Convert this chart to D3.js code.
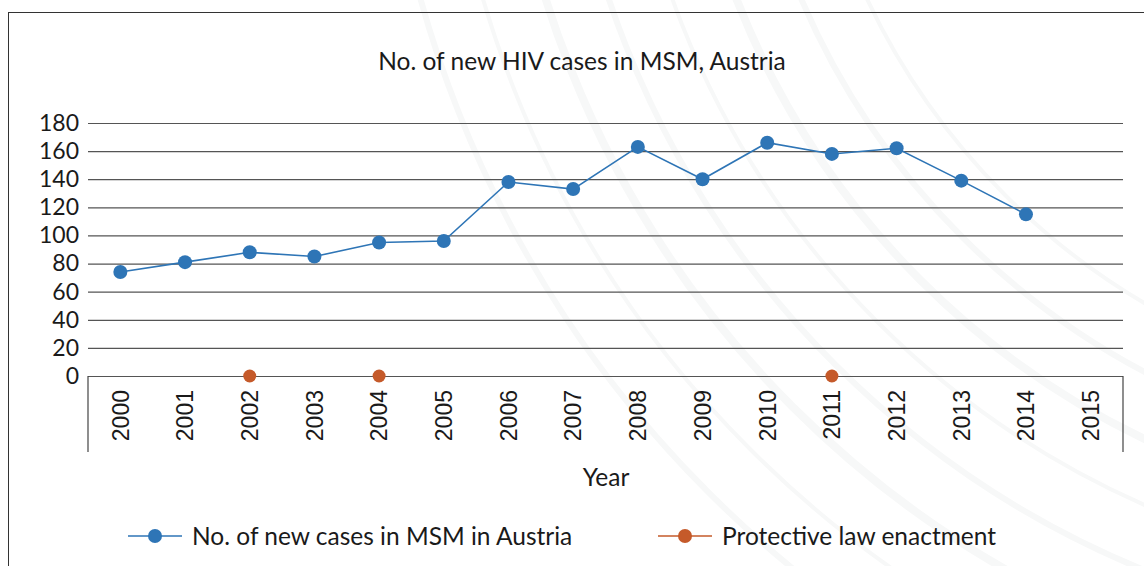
<!DOCTYPE html>
<html>
<head>
<meta charset="utf-8">
<script src="https://cdn.jsdelivr.net/npm/d3@7"></script>
<style>
  html, body { margin: 0; padding: 0; background: #fff; }
  svg { display: block; }
</style>
</head>
<body>
<svg id="chart" width="1144" height="566"></svg>
<script>
const years = ["2000","2001","2002","2003","2004","2005","2006","2007","2008","2009","2010","2011","2012","2013","2014","2015"];
const caseYears = ["2000","2001","2002","2003","2004","2005","2006","2007","2008","2009","2010","2011","2012","2013","2014"];
const caseValues = [74, 81, 88, 85, 95, 96, 138, 133, 163, 140, 166, 158, 162, 139, 115];
const lawYears = ["2002","2004","2011"];
const lawValues = [0, 0, 0];
const yTicks = [0, 20, 40, 60, 80, 100, 120, 140, 160, 180];
const title = "No. of new HIV cases in MSM, Austria";
const xTitle = "Year";
const seriesNames = ["No. of new cases in MSM in Austria", "Protective law enactment"];
const colors = ["#2e75b6", "#c55a2a"];

const svg = d3.select("#chart");
const W = 1144, H = 566;
const plot = {left: 88, right: 1123, top: 123, bottom: 376};
const sansFont = "Lato, 'Open Sans', sans-serif";

// faint decorative background swooshes
const bg = svg.append("g");
const arcs = [
  [1500, -300, 700], [1500, -300, 760], [1500, -300, 820], [1500, -300, 880],
  [1500, -300, 940], [1500, -300, 1000], [1500, -300, 1060], [1500, -300, 1120]
];
arcs.forEach(([cx, cy, r], i) => {
  bg.append("circle").attr("cx", cx).attr("cy", cy).attr("r", r)
    .attr("fill", "none").attr("stroke", "#f7f8f8").attr("stroke-width", 4 + (i % 3) * 2);
});

// outer frame
svg.append("rect").attr("x", 8.5).attr("y", 12.5).attr("width", W + 20).attr("height", H + 20)
  .attr("fill", "none").attr("stroke", "#333").attr("stroke-width", 1);

const x = d3.scaleBand().domain(years).range([plot.left, plot.right]).padding(0);
const y = d3.scaleLinear().domain([0, 180]).range([plot.bottom, plot.top]);

// title
svg.append("text").attr("x", 582).attr("y", 70).attr("text-anchor", "middle")
  .style("font-family", sansFont).style("font-size", "24.5px").attr("fill", "#1a1a1a").text(title);

// gridlines + y axis labels
const yAxis = d3.axisLeft(y).tickValues(yTicks).tickSize(-(plot.right - plot.left)).tickPadding(9);
const gy = svg.append("g").attr("transform", `translate(${plot.left},0)`).call(yAxis);
gy.select(".domain").remove();
gy.selectAll(".tick line").attr("stroke", "#555").attr("stroke-width", 1.2);
gy.selectAll(".tick text").style("font-family", sansFont).style("font-size", "23px").attr("fill", "#1a1a1a");

// category axis box
const boxBottom = 452;
svg.append("line").attr("x1", plot.left).attr("x2", plot.left).attr("y1", plot.bottom).attr("y2", boxBottom)
  .attr("stroke", "#444").attr("stroke-width", 1.2);
svg.append("line").attr("x1", plot.right).attr("x2", plot.right).attr("y1", plot.bottom).attr("y2", boxBottom)
  .attr("stroke", "#444").attr("stroke-width", 1.2);

// x axis labels (rotated)
const xAxis = d3.axisBottom(x).tickSize(0).tickPadding(0);
const gx = svg.append("g").attr("transform", `translate(0,${plot.bottom})`).call(xAxis);
gx.select(".domain").remove();
gx.selectAll(".tick text")
  .attr("transform", "rotate(-90)")
  .attr("x", -14).attr("y", 0).attr("dy", "0.36em")
  .attr("text-anchor", "end")
  .style("font-family", "'Liberation Sans', Arial, sans-serif")
  .style("font-size", "23px").attr("fill", "#1a1a1a");

// x title
svg.append("text").attr("x", 606).attr("y", 486).attr("text-anchor", "middle")
  .style("font-family", sansFont).style("font-size", "24.5px").attr("fill", "#1a1a1a").text(xTitle);

// case series
const caseData = caseYears.map((yr, i) => ({yr, v: caseValues[i]}));
const line = d3.line().x(d => x(d.yr) + x.bandwidth() / 2).y(d => y(d.v));
svg.append("path").datum(caseData).attr("d", line).attr("fill", "none")
  .attr("stroke", colors[0]).attr("stroke-width", 1.6);
svg.append("g").selectAll("circle").data(caseData).join("circle")
  .attr("cx", d => x(d.yr) + x.bandwidth() / 2).attr("cy", d => y(d.v)).attr("r", 7)
  .attr("fill", colors[0]);

// law series
const lawData = lawYears.map((yr, i) => ({yr, v: lawValues[i]}));
svg.append("g").selectAll("circle").data(lawData).join("circle")
  .attr("cx", d => x(d.yr) + x.bandwidth() / 2).attr("cy", d => y(d.v)).attr("r", 6.5)
  .attr("fill", colors[1]);

// legend
const legendItems = [
  {name: seriesNames[0], color: colors[0], x0: 128},
  {name: seriesNames[1], color: colors[1], x0: 658}
];
const ly = 536;
legendItems.forEach(it => {
  const g = svg.append("g");
  g.append("line").attr("x1", it.x0).attr("x2", it.x0 + 54).attr("y1", ly).attr("y2", ly)
    .attr("stroke", it.color).attr("stroke-width", 1.6);
  g.append("circle").attr("cx", it.x0 + 27).attr("cy", ly).attr("r", 7).attr("fill", it.color);
  g.append("text").attr("x", it.x0 + 64).attr("y", ly).attr("dy", "0.36em")
    .style("font-family", sansFont).style("font-size", "24.5px").attr("fill", "#1a1a1a").text(it.name);
});
</script>
</body>
</html>
